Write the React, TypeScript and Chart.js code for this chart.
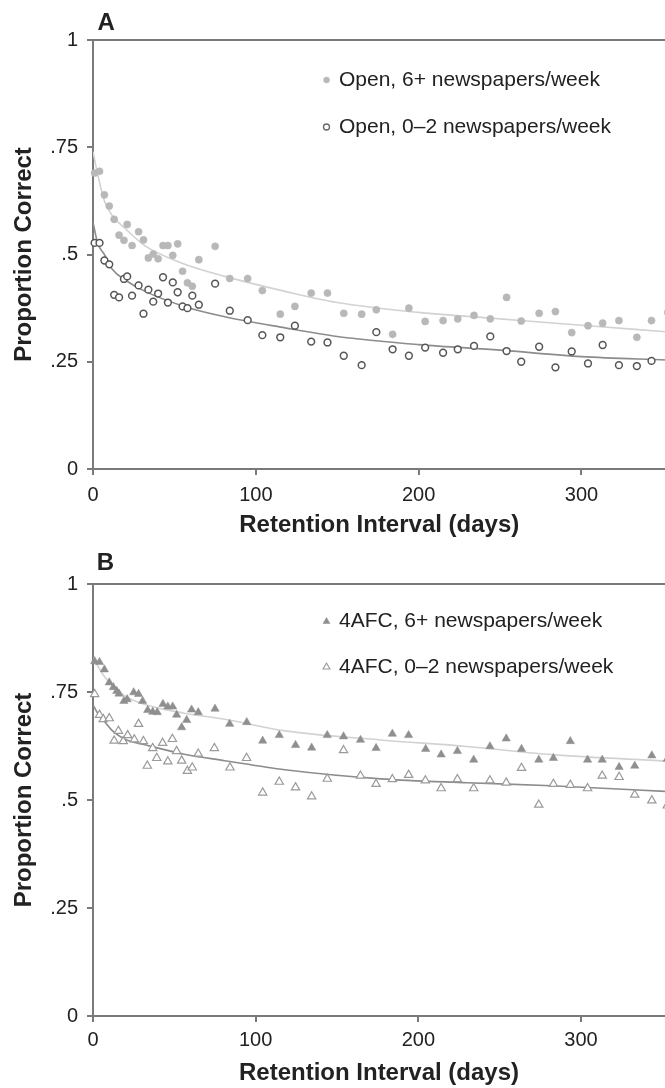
import React, { useEffect, useRef } from 'react';
import { Chart, registerables } from 'chart.js';

Chart.register(...registerables);

// ---------- axes ----------
const X_TICKS = [0, 100, 200, 300];
const X_MAX = 351.6;
const Y_TICKS = [0, 0.25, 0.5, 0.75, 1];
const Y_TICK_LABELS = ['0', '.25', '.5', '.75', '1'];
const X_TITLE = 'Retention Interval (days)';
const Y_TITLE = 'Proportion Correct';

// ---------- panel A: open recall ----------
const daysA = [1, 4, 7, 10, 13, 16, 19, 21, 24, 28, 31, 34, 37, 40, 43, 46, 49, 52, 55, 58, 61, 65, 75, 84, 95, 104, 115,
  124, 134, 144, 154, 165, 174, 184, 194, 204, 215, 224, 234, 244, 254, 263, 274, 284, 294, 304, 313, 323, 334, 343, 353];
const openHigh = [0.690, 0.694, 0.639, 0.613, 0.582, 0.545, 0.533, 0.570, 0.521, 0.553, 0.534, 0.492, 0.501, 0.490, 0.521, 0.521, 0.498, 0.525, 0.461, 0.434,
  0.426, 0.488, 0.519, 0.444, 0.444, 0.416, 0.361,
  0.379, 0.410, 0.410, 0.363, 0.361, 0.371, 0.314, 0.375, 0.344, 0.346, 0.350, 0.358, 0.350, 0.400, 0.345, 0.363, 0.367, 0.318, 0.334, 0.340, 0.346, 0.307, 0.346, 0.365];
const openLow = [0.527, 0.527, 0.486, 0.477, 0.406, 0.400, 0.443, 0.449, 0.404, 0.428, 0.362, 0.418, 0.390, 0.409, 0.447, 0.388, 0.435, 0.412, 0.379, 0.375,
  0.404, 0.383, 0.432, 0.369, 0.347, 0.312, 0.307,
  0.334, 0.297, 0.295, 0.264, 0.242, 0.319, 0.279, 0.264, 0.283, 0.271, 0.279, 0.287, 0.309, 0.275, 0.250, 0.285, 0.237, 0.274, 0.246, 0.289, 0.242, 0.240, 0.252, null];
const fitDaysA = [0, 3, 7, 12, 20, 32, 56, 81, 118, 150, 200, 250, 300, 352];
const openHighFit = [0.74, 0.685, 0.625, 0.59, 0.56, 0.52, 0.478, 0.449, 0.414, 0.388, 0.365, 0.35, 0.335, 0.32];
const openLowFit = [0.575, 0.525, 0.50, 0.465, 0.44, 0.414, 0.379, 0.355, 0.329, 0.309, 0.29, 0.277, 0.262, 0.254];

// ---------- panel B: 4AFC ----------
const daysBHigh = [1, 4, 7, 10, 12.5, 14.6, 16, 19, 21, 25, 28, 30.5, 33.6, 36.7, 39.5, 43, 46, 49, 51.4, 54.5, 57.6, 60.6, 64.7, 75, 84, 94.5, 104.3, 114.5,
  124.5, 134.4, 144, 154, 164.4, 174, 184, 194, 204.5, 214, 224, 234, 244, 254, 263.4, 274, 283, 293.4, 304, 313, 323.4, 333, 343.5, 353];
const afcHigh = [0.821, 0.819, 0.802, 0.772, 0.761, 0.752, 0.746, 0.729, 0.733, 0.749, 0.745, 0.729, 0.708, 0.704, 0.703, 0.722, 0.716, 0.716, 0.697, 0.668,
  0.685, 0.709, 0.703, 0.711, 0.676, 0.680, 0.637, 0.650,
  0.627, 0.621, 0.650, 0.647, 0.639, 0.620, 0.653, 0.650, 0.618, 0.605, 0.613, 0.593, 0.624, 0.642, 0.618, 0.593, 0.597, 0.636, 0.593, 0.593, 0.576, 0.579, 0.603, 0.595];
const daysBLow = [1, 4, 6.3, 10, 13, 15.6, 18.6, 21.3, 25.4, 28, 31, 33.4, 36.7, 39.2, 42.8, 46, 48.8, 51.4, 54.5, 58, 61, 64.7, 74.6, 84.2, 94.4, 104.3, 114.5,
  124.5, 134.4, 144, 154, 164.4, 174, 184, 194, 204.3, 214, 224, 234, 244, 254, 263.4, 274, 283, 293.4, 304, 313, 323.4, 333, 343.5, 353];
const afcLow = [0.745, 0.697, 0.687, 0.689, 0.637, 0.660, 0.636, 0.650, 0.640, 0.676, 0.636, 0.579, 0.620, 0.597, 0.632, 0.589, 0.641, 0.613, 0.591, 0.567,
  0.575, 0.607, 0.620, 0.575, 0.597, 0.517, 0.542,
  0.529, 0.508, 0.549, 0.615, 0.556, 0.537, 0.548, 0.558, 0.545, 0.527, 0.548, 0.527, 0.545, 0.540, 0.574, 0.489, 0.537, 0.535, 0.527, 0.556, 0.553, 0.512, 0.499, 0.487];
const fitDaysB = [0, 3, 7, 12, 20, 32, 56, 81, 118, 177, 230, 282, 352];
const afcHighFit = [0.83, 0.81, 0.786, 0.765, 0.74, 0.721, 0.701, 0.687, 0.66, 0.639, 0.624, 0.605, 0.59];
const afcLowFit = [0.72, 0.70, 0.682, 0.66, 0.64, 0.628, 0.606, 0.591, 0.57, 0.549, 0.54, 0.533, 0.52];

const FONT = '"Liberation Sans", Arial, Helvetica, sans-serif';
const TEXT = '#222222';
const AXIS = '#7a7a7a';
const CANVAS_W = 671; // slightly wider than the page; the right edge is cropped like the original figure

const toXY = (xs: number[], ys: (number | null)[]) => xs.map((x, i) => ({ x, y: ys[i] }));

type Entry = { label: string; style: 'circle' | 'triangle'; fill: string; stroke: string; r: number; lw: number };
type PanelCfg = {
  letter: string;
  letterDx: number;
  letterDy: number;
  legendRows: number[];
  legendDx: number;
  entries: Entry[];
  xAxisH: number;
  xTitlePad: number;
  xTickPad: number;
  datasets: any[];
};

function drawMarker(ctx: CanvasRenderingContext2D, e: Entry, x: number, y: number) {
  ctx.beginPath();
  if (e.style === 'circle') {
    ctx.arc(x, y, e.r, 0, Math.PI * 2);
  } else {
    const r = e.r;
    ctx.moveTo(x, y - r);
    ctx.lineTo(x + r * Math.sin((2 * Math.PI) / 3), y + r / 2);
    ctx.lineTo(x - r * Math.sin((2 * Math.PI) / 3), y + r / 2);
    ctx.closePath();
  }
  ctx.fillStyle = e.fill;
  ctx.fill();
  ctx.lineWidth = e.lw;
  ctx.strokeStyle = e.stroke;
  ctx.stroke();
}

function Panel({ cfg }: { cfg: PanelCfg }) {
  const ref = useRef<HTMLCanvasElement>(null);
  useEffect(() => {
    const decor = {
      id: 'panelDecor',
      afterDraw(chart: any) {
        const { ctx, chartArea } = chart;
        ctx.save();
        ctx.fillStyle = TEXT;
        ctx.font = `bold 24px ${FONT}`;
        ctx.textAlign = 'left';
        ctx.textBaseline = 'alphabetic';
        ctx.fillText(cfg.letter, chartArea.left + cfg.letterDx, chartArea.top + cfg.letterDy);
        ctx.font = `21px ${FONT}`;
        ctx.textBaseline = 'middle';
        cfg.entries.forEach((e, i) => {
          const y = chartArea.top + cfg.legendRows[i];
          const mx = chartArea.left + cfg.legendDx;
          drawMarker(ctx, e, mx, y);
          ctx.fillStyle = TEXT;
          ctx.fillText(e.label, mx + 12.5, y);
        });
        ctx.restore();
      },
    };
    const chart = new Chart(ref.current as HTMLCanvasElement, {
      type: 'scatter',
      data: { datasets: cfg.datasets },
      plugins: [decor],
      options: {
        animation: false,
        responsive: false,
        layout: { padding: { top: 40, left: 0, right: 0, bottom: 0 } },
        plugins: { legend: { display: false }, tooltip: { enabled: false } },
        scales: {
          x: {
            type: 'linear',
            min: 0,
            max: X_MAX,
            afterBuildTicks: (s: any) => {
              s.ticks = X_TICKS.map((v) => ({ value: v }));
            },
            afterFit: (s: any) => {
              s.height = cfg.xAxisH;
              s.paddingLeft = 0;
              s.paddingRight = 0;
            },
            ticks: { font: { family: FONT, size: 20 }, color: TEXT, padding: cfg.xTickPad, maxRotation: 0, autoSkip: false },
            grid: { drawOnChartArea: false, drawTicks: true, tickLength: 6, color: AXIS, lineWidth: 2 },
            border: { display: true, color: AXIS, width: 2 },
            title: {
              display: true,
              text: X_TITLE,
              color: TEXT,
              font: { family: FONT, size: 24, weight: 'bold' },
              padding: { top: 0, bottom: cfg.xTitlePad },
            },
          },
          y: {
            type: 'linear',
            min: 0,
            max: 1,
            afterBuildTicks: (s: any) => {
              s.ticks = Y_TICKS.map((v) => ({ value: v }));
            },
            afterFit: (s: any) => {
              s.width = 93;
            },
            ticks: {
              font: { family: FONT, size: 20 },
              color: TEXT,
              padding: 9,
              callback: (v: any) => {
                const i = Y_TICKS.indexOf(Number(v));
                return i >= 0 ? Y_TICK_LABELS[i] : '';
              },
            },
            grid: {
              drawTicks: true,
              tickLength: 6,
              lineWidth: 2,
              tickColor: AXIS,
              color: (c: any) => (c.tick && c.tick.value === 1 ? AXIS : 'rgba(0,0,0,0)'),
            },
            border: { display: true, color: AXIS, width: 2 },
            title: {
              display: true,
              text: Y_TITLE,
              color: TEXT,
              font: { family: FONT, size: 24, weight: 'bold' },
              padding: { top: 10, bottom: 0 },
            },
          },
        },
      } as any,
    });
    return () => chart.destroy();
  }, []);
  return <canvas ref={ref} width={CANVAS_W} height={544} style={{ display: 'block', width: CANVAS_W, height: 544 }} />;
}

const pts = (data: any[], style: string, fill: string, stroke: string, r: number, lw: number) => ({
  data,
  showLine: false,
  pointStyle: style,
  pointRadius: r,
  pointBackgroundColor: fill,
  pointBorderColor: stroke,
  pointBorderWidth: lw,
  clip: false,
  order: 0,
});
const curve = (data: any[], color: string) => ({
  data,
  showLine: true,
  borderColor: color,
  borderWidth: 1.6,
  pointRadius: 0,
  cubicInterpolationMode: 'monotone',
  order: 1,
});

const panelA: PanelCfg = {
  letter: 'A',
  letterDx: 4.5,
  letterDy: -10,
  legendRows: [40, 87],
  legendDx: 233.5,
  entries: [
    { label: 'Open, 6+ newspapers/week', style: 'circle', fill: '#b8b8b8', stroke: '#b8b8b8', r: 3, lw: 0.5 },
    { label: 'Open, 0–2 newspapers/week', style: 'circle', fill: '#ffffff', stroke: '#666666', r: 3, lw: 1.3 },
  ],
  xAxisH: 75,
  xTitlePad: 4.6,
  xTickPad: 8,
  datasets: [
    pts(toXY(daysA, openHigh), 'circle', '#b8b8b8', '#b8b8b8', 3.6, 0.5),
    pts(toXY(daysA, openLow), 'circle', '#ffffff', '#555555', 3.4, 1.5),
    curve(toXY(fitDaysA, openHighFit), '#d2d2d2'),
    curve(toXY(fitDaysA, openLowFit), '#8c8c8c'),
  ],
};

const panelB: PanelCfg = {
  letter: 'B',
  letterDx: 3.7,
  letterDy: -13.6,
  legendRows: [37.5, 83],
  legendDx: 233.5,
  entries: [
    { label: '4AFC, 6+ newspapers/week', style: 'triangle', fill: '#8f8f8f', stroke: '#8f8f8f', r: 4, lw: 0.5 },
    { label: '4AFC, 0–2 newspapers/week', style: 'triangle', fill: '#ffffff', stroke: '#999999', r: 4, lw: 1.1 },
  ],
  xAxisH: 72,
  xTitlePad: 0.3,
  xTickPad: 6,
  datasets: [
    pts(toXY(daysBHigh, afcHigh), 'triangle', '#8f8f8f', '#8f8f8f', 4.8, 0.5),
    pts(toXY(daysBLow, afcLow), 'triangle', '#ffffff', '#9a9a9a', 4.8, 1.2),
    curve(toXY(fitDaysB, afcHighFit), '#d2d2d2'),
    curve(toXY(fitDaysB, afcLowFit), '#8c8c8c'),
  ],
};

export default function App() {
  return (
    <div style={{ position: 'absolute', left: 0, top: 0, width: 665, height: 1088, overflow: 'hidden', background: '#ffffff' }}>
      <Panel cfg={panelA} />
      <Panel cfg={panelB} />
    </div>
  );
}
